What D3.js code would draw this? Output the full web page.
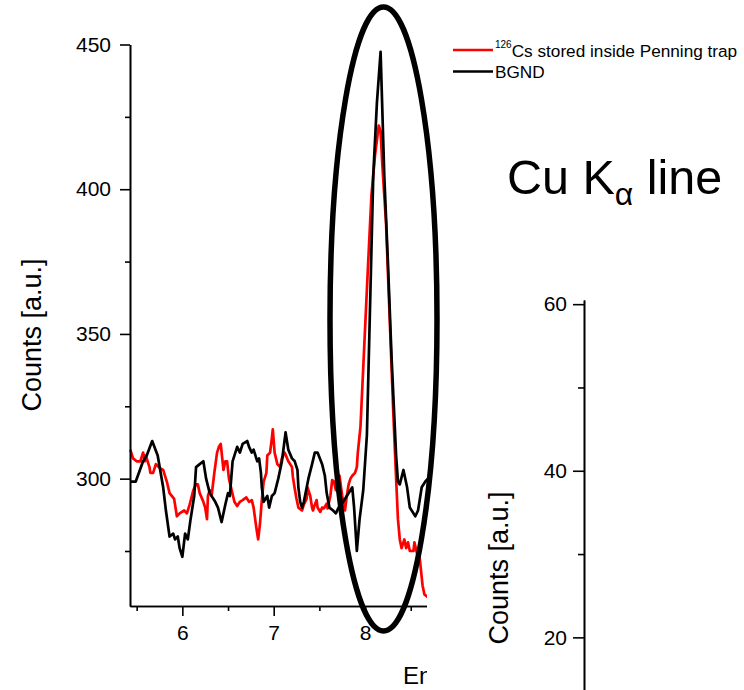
<!DOCTYPE html>
<html>
<head>
<meta charset="utf-8">
<script src="https://cdn.jsdelivr.net/npm/d3@7"></script>
<style>
  body { margin: 0; background: #fff; }
  svg { display: block; font-family: "Liberation Sans", Arial, sans-serif; }
</style>
</head>
<body>
<div id="chart"></div>
<script>
// energy [keV] of each read-off vertex
const bgndEnergy = [5.43,5.49,5.57,5.61,5.67,5.73,5.79,5.82,5.86,5.90,5.92,5.95,5.97,6.00,6.03,6.06,6.09,6.13,6.15,6.19,
  6.23,6.26,6.30,6.36,6.39,6.43,6.47,6.50,6.52,6.55,6.60,6.63,6.66,6.71,6.73,6.76,6.78,6.82,6.84,6.86,
  6.87,6.89,6.93,6.95,6.98,7.01,7.05,7.09,7.13,7.16,7.20,7.23,7.26,7.27,7.29,7.31,7.33,7.38,7.42,7.45,
  7.48,7.53,7.56,7.58,7.61,7.65,7.68,7.71,7.76,7.80,7.86,7.88,7.91,7.94,7.98,8.02,8.09,8.13,8.17,8.21,
  8.25,8.29,8.34,8.36,8.38,8.42,8.46,8.49,8.55,8.58,8.62,8.66,8.69];
const bgndCounts = [299,299,306,308,313,308,297,289,280,281,279,280,276,273,281,279,286,294,304,305,
  306,300,295,292,290,285,291,295,294,306,311,309,312,313,311,309,310,306,307,302,
  297,292,294,290,294,295,300,306,316,310,307,306,303,297,292,290,292,300,305,309,
  309,305,301,295,290,289,288,290,292,294,297,290,275,286,296,315,405,430,447.5,405,
  375,342,308,299,298,303,297,290,287,289,297,299,300];

const csEnergy = [5.43,5.46,5.50,5.54,5.57,5.59,5.60,5.64,5.65,5.68,5.71,5.76,5.79,5.83,5.86,5.91,5.94,5.97,6.02,6.05,
  6.08,6.12,6.15,6.17,6.19,6.23,6.25,6.27,6.28,6.30,6.32,6.35,6.38,6.40,6.42,6.45,6.47,6.49,6.51,6.54,
  6.57,6.60,6.63,6.66,6.70,6.73,6.76,6.78,6.81,6.83,6.85,6.87,6.89,6.92,6.93,6.96,6.98,6.99,7.01,7.04,
  7.07,7.09,7.12,7.16,7.20,7.21,7.23,7.25,7.27,7.31,7.33,7.36,7.37,7.40,7.42,7.43,7.45,7.47,7.48,7.51,
  7.53,7.55,7.58,7.59,7.62,7.64,7.66,7.68,7.69,7.72,7.75,7.76,7.78,7.80,7.82,7.84,7.86,7.89,7.91,7.92,
  7.95,7.99,8.03,8.07,8.11,8.15,8.17,8.19,8.23,8.27,8.31,8.34,8.36,8.38,8.40,8.43,8.45,8.47,8.49,8.53,
  8.54,8.57,8.58,8.60,8.62,8.63,8.65,8.69];
const csCounts = [310,307,306,306,309,306,308,304,302,302,305,303.5,303,299,295,293,287,288,289,288,
  291,296,298,298,295,292,290,286,294,296,294,302,309,311,312,303,306,306,300,296,
  292,290.5,292,292.6,293.5,292,292.6,290,283,279,284.5,292.6,299,302,308,309,314,317,309,305,
  304,307,309,306,304,300.6,296.6,293,290,289,291,293,297,294,290,289,291,292.6,290,288.5,
  290,289.7,291.4,289.7,294,299.5,299,296,300.6,301,294,292,289,294,298,300,301,302,304,308.7,
  318,345,372,398,412,422,420,408,388,355,322,300,286,279,276,279,276,278,275,275,
  278,274,275,272,266,263,260,259];

const seriesNames = ["126Cs stored inside Penning trap", "BGND"];
const seriesColors = ["#ff0000", "#000000"];

const xMajor = [6, 7, 8], xMinor = [5.5, 6.5, 7.5, 8.5];
const yMajor = [300, 350, 400, 450], yMinor = [275, 325, 375, 425];
const y2Major = [20, 40, 60], y2Minor = [30, 50];

const W = 744, H = 690;
const svg = d3.select("#chart").append("svg")
  .attr("width", W).attr("height", H);
svg.append("rect").attr("width", W).attr("height", H).attr("fill", "#fff");

// left panel (cut off at the right edge)
const x = d3.scaleLinear().domain([5.427, 8.678]).range([130, 427]);
const y = d3.scaleLinear().domain([256, 450]).range([606, 44.5]);

svg.append("clipPath").attr("id", "leftClip")
  .append("rect").attr("x", 0).attr("y", 0).attr("width", 427).attr("height", H);
const left = svg.append("g").attr("clip-path", "url(#leftClip)");

const line = d3.line().x(d => x(d[0])).y(d => y(d[1]));
const csData = csEnergy.map((e, i) => [e, csCounts[i]]);
const bgData = bgndEnergy.map((e, i) => [e, bgndCounts[i]]);

left.append("path").datum(csData)
  .attr("fill", "none").attr("stroke", seriesColors[0]).attr("stroke-width", 2.7)
  .attr("stroke-linejoin", "round").attr("d", line);
left.append("path").datum(bgData)
  .attr("fill", "none").attr("stroke", seriesColors[1]).attr("stroke-width", 2.7)
  .attr("stroke-linejoin", "round").attr("d", line);

function styleAxis(g) {
  g.select(".domain").attr("stroke", "#000").attr("stroke-width", 1.6);
  g.selectAll(".tick line").attr("stroke", "#000").attr("stroke-width", 1.6);
  g.selectAll("text").attr("font-size", 21).attr("fill", "#000")
    .attr("font-family", "'Liberation Sans', Arial, sans-serif");
}

// x axis
left.append("g").attr("transform", "translate(0,606)")
  .call(d3.axisBottom(x).tickValues(xMinor).tickSize(5).tickFormat("").tickSizeOuter(0))
  .call(styleAxis);
left.append("g").attr("transform", "translate(0,606)")
  .call(d3.axisBottom(x).tickValues(xMajor).tickSize(10).tickPadding(9).tickFormat(d3.format("d")).tickSizeOuter(0))
  .call(styleAxis);

// y axis
left.append("g").attr("transform", "translate(130,0)")
  .call(d3.axisLeft(y).tickValues(yMinor).tickSize(5).tickFormat("").tickSizeOuter(0))
  .call(styleAxis);
left.append("g").attr("transform", "translate(130,0)")
  .call(d3.axisLeft(y).tickValues(yMajor).tickSize(10).tickPadding(9).tickSizeOuter(0))
  .call(styleAxis);

left.append("text").attr("transform", "translate(41,335) rotate(-90)")
  .attr("text-anchor", "middle").attr("font-size", 27).text("Counts [a.u.]");
left.append("text").attr("x", 403).attr("y", 684)
  .attr("font-size", 24).text("Energy [keV]");

// ellipse round the Cu K-alpha peak
svg.append("ellipse")
  .attr("cx", 383.5).attr("cy", 319).attr("rx", 53.5).attr("ry", 312)
  .attr("fill", "none").attr("stroke", "#000").attr("stroke-width", 5.5);

// legend
const legend = svg.append("g");
seriesNames.forEach((name, i) => {
  const ly = 50 + i * 21.5;
  legend.append("line").attr("x1", 453).attr("x2", 493).attr("y1", ly).attr("y2", ly)
    .attr("stroke", seriesColors[i]).attr("stroke-width", 2.6);
  const t = legend.append("text").attr("x", 495).attr("y", ly + 6.5).attr("font-size", 17.2);
  if (name.startsWith("126")) {
    t.append("tspan").attr("font-size", 10).attr("dy", -9).text("126");
    t.append("tspan").attr("dy", 9).text(name.slice(3));
  } else {
    t.text(name);
  }
});

// title
const title = svg.append("text").attr("x", 507).attr("y", 194).attr("font-size", 48.5);
title.append("tspan").text("Cu K");
title.append("tspan").attr("font-size", 32).attr("dy", 11).text("α");
title.append("tspan").attr("dy", -11).text(" line");

// right panel (only its axis is visible)
const y2 = d3.scaleLinear().domain([13.5, 60.5]).range([691.5, 300]);
svg.append("g").attr("transform", "translate(584,0)")
  .call(d3.axisLeft(y2).tickValues(y2Minor).tickSize(6).tickFormat("").tickSizeOuter(0))
  .call(styleAxis);
svg.append("g").attr("transform", "translate(584,0)")
  .call(d3.axisLeft(y2).tickValues(y2Major).tickSize(11).tickPadding(6).tickSizeOuter(0))
  .call(styleAxis);
svg.append("text").attr("transform", "translate(508,568) rotate(-90)")
  .attr("text-anchor", "middle").attr("font-size", 27).text("Counts [a.u.]");
</script>
</body>
</html>
